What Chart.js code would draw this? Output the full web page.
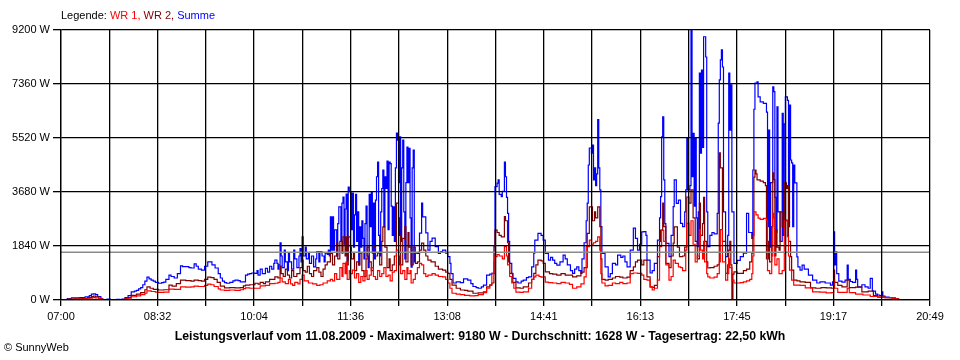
<!DOCTYPE html>
<html><head><meta charset="utf-8">
<script src="https://cdn.jsdelivr.net/npm/chart.js@4/dist/chart.umd.min.js"></script>
<style>html,body{margin:0;padding:0;background:#fff}#wrap{width:960px;height:360px}</style>
</head><body><div id="wrap"><canvas id="c" width="960" height="360"></canvas></div>
<script>
// Time labels (every second grid line) and axis span in minutes after 07:00
const timeLabels = ['07:00','08:32','10:04','11:36','13:08','14:41','16:13','17:45','19:17','20:49'];
const spanMinutes = 829;
const yTicks = [0, 1840, 3680, 5520, 7360, 9200];
const averageW = 1628;
const legendParts = [['Legende: ', '#000000'], ['WR 1, ', '#ff0000'], ['WR 2, ', '#800000'], ['Summe', '#0000ff']];
const titleText = 'Leistungsverlauf vom 11.08.2009 - Maximalwert: 9180 W - Durchschnitt: 1628 W - Tagesertrag: 22,50 kWh';
const footerText = '\u00A9 SunnyWeb';

// [minutes after 07:00, watts]
const summe = [[5,0],[6,50],[10,70],[18,80],[23,110],[27,150],[29,200],[31,210],[33,180],[35,120],[38,40],[40,0],[44,30],[47,0],[53,20],[56,0],[58,30],[61,80],[64,150],[67,280],[70,300],[72,330],[74,380],[76,420],[78,520],[80,640],[82,780],[84,720],[86,680],[88,640],[90,600],[93,570],[96,590],[98,610],[100,700],[103,850],[105,800],[108,750],[111,900],[114,1160],[116,1140],[119,1140],[122,1100],[124,1090],[127,1230],[129,1150],[131,1050],[134,1020],[137,1150],[140,1300],[142,1300],[144,1200],[147,1090],[150,900],[152,750],[154,640],[156,590],[158,570],[161,600],[164,650],[166,680],[169,660],[171,620],[173,620],[176,850],[178,880],[180,900],[182,920],[185,910],[187,1000],[188,850],[190,1050],[192,900],[195,1080],[197,950],[199,1150],[201,1050],[203,1250],[204,1360],[206,1250],[207,1050],[208,1200],[209,1950],[210,1500],[211,1100],[213,1700],[214,1300],[216,1000],[217,1600],[218,1300],[220,1050],[222,1700],[223,1400],[225,1100],[227,1500],[228,1750],[229,1300],[230,2150],[231,1500],[233,1800],[234,1400],[236,1600],[237,1250],[239,1500],[241,1130],[243,1400],[244,1650],[246,1300],[247,1650],[249,1500],[251,1300],[252,1600],[254,1550],[255,1700],
[256,1500],[257,2830],[258,1700],[259,2830],[260,1700],[261,2390],[262,2390],[263,1500],[264,2600],[265,3170],[266,3170],[267,2000],[268,3300],[269,3510],[270,1900],[271,3100],[272,3610],[273,1360],[274,3850],[275,3700],[276,3650],[277,2400],[278,3640],[279,1800],[280,2900],[281,3600],[282,2000],[283,3000],[284,1200],[285,2490],[286,1800],[287,2700],[288,2100],[289,1400],[290,2600],[291,3200],[292,1500],[293,1100],[294,3600],[295,2500],[296,3690],[297,1600],[298,3300],[299,1400],[300,3400],[301,4200],[302,4700],[303,2200],[304,1500],[305,3000],[306,3800],[307,4430],[308,2500],[309,4200],[310,3800],[311,4730],[312,2400],[313,4700],[314,4650],[315,3200],[316,2200],[317,3170],[318,2000],[319,4500],[320,5690],[321,5450],[322,4000],[323,5560],[324,2000],[325,4500],[326,5450],[327,3000],[328,1400],[329,4000],[330,5210],[331,4000],[332,5170],[333,2800],[334,1120],[335,4500],[336,5110],[337,1300],[338,1600],
[340,1590],[342,2280],[344,3300],[345,2830],[348,2290],[350,1700],[352,2000],[354,2110],[357,1820],[360,1590],[362,1650],[364,1700],[367,1600],[369,1480],[371,1250],[372,900],[374,580],[377,620],[381,590],[384,720],[388,680],[391,560],[393,460],[396,420],[398,400],[401,450],[403,510],[406,850],[409,880],[411,910],[413,1820],[414,3860],[416,3980],[417,4090],[418,3600],[420,3520],[421,3700],[423,4700],[424,4200],[425,3500],[426,2950],[427,2000],[428,1250],[430,900],[431,740],[434,620],[436,580],[439,640],[441,680],[444,760],[446,790],[449,1130],[451,1600],[452,2040],[455,2270],[458,2200],[460,2040],[462,1590],[465,1360],[467,1450],[469,1360],[471,1250],[473,1190],[476,1300],[479,1530],[481,1400],[483,1200],[486,1000],[488,910],[490,1050],[492,1130],[494,1000],[496,910],[497,1400],[499,1950],[501,2700],[502,3300],[503,4600],[504,5180],[506,5000],[507,5280],[508,4090],[509,4500],[510,3900],[511,4300],[512,6150],[513,4500],[514,3750],[515,2500],[516,1590],[519,1130],[522,790],[524,900],[526,1250],[529,1200],[531,1530],[534,1450],[536,1500],[538,1300],[540,1130],[543,1700],[546,2450],[548,2100],[550,1700],[552,1900],[554,2320],[556,2330],[558,2200],[559,1360],[562,920],[564,1000],[566,1250],[569,2040],[571,2800],[572,3520],[573,5560],[574,6240],[575,4090],[576,2600],[577,1930],[580,1480],[582,2200],[584,3180],[585,4090],[587,3290],[589,3400],[591,2610],[593,2500],[595,3000],[596,3750],[597,5510],[598,3750],[600,3900],[601,9180],[602,4200],[603,5680],[604,3200],[605,5500],[606,2800],[607,1820],[608,3000],[609,7730],[610,5000],[611,7830],[612,5200],[613,8970],[614,8970],[615,8280],[616,3000],[617,1820],[619,2200],[621,2300],[623,2250],[626,2950],[627,6030],[628,7500],[629,8180],[630,8520],[631,7940],[632,3000],[634,1480],[636,2200],[637,7730],[638,5790],[639,7330],[640,3000],[642,1250],[645,1350],[648,1480],[651,1600],[654,2950],[656,2300],[659,2100],[660,4430],[661,6500],[662,7390],[664,7430],[665,6920],[667,6750],[670,6700],[673,6400],[674,2500],[675,5790],[676,1800],[677,4000],[679,7260],[680,7100],[681,3500],[682,2300],[683,6580],[684,3000],[686,2000],[688,6360],[689,2200],[690,6000],[691,6920],[693,6800],[694,2500],[695,6640],[696,4770],[697,4670],[698,2500],[699,4600],[700,3990],[702,1470],[703,1130],[705,1020],[707,1190],[709,1050],[713,850],[717,680],[721,580],[724,620],[729,580],[734,510],[736,620],[737,2320],[738,1200],[739,1640],[740,900],[742,640],[745,610],[748,680],[750,1190],[751,700],[753,630],[755,600],[758,1020],[759,700],[760,450],[764,520],[767,450],[770,400],[772,740],[774,300],[777,200],[779,170],[781,150],[783,280],[784,130],[786,100],[790,80],[793,70],[796,40],[799,0]];

const wr2 = [[5,0],[7,30],[13,40],[20,50],[25,80],[29,120],[31,130],[33,110],[36,60],[39,0],[58,0],[61,40],[64,80],[67,160],[72,200],[76,250],[80,350],[82,450],[85,400],[88,360],[93,340],[98,350],[103,510],[106,470],[110,560],[114,680],[119,660],[124,640],[127,680],[131,660],[134,640],[137,700],[140,780],[143,760],[146,700],[149,600],[152,470],[156,410],[161,420],[166,410],[171,420],[174,480],[176,510],[180,520],[185,570],[188,540],[190,600],[193,560],[195,620],[199,700],[204,790],[207,750],[209,1160],[210,900],[212,800],[214,1050],[216,850],[218,750],[220,1000],[222,800],[225,900],[228,1100],[230,1360],[231,1000],[233,950],[235,1150],[237,900],[239,800],[241,1000],[244,1100],[246,950],[248,800],[250,1050],[252,1200],[254,1300],[257,1590],[259,1200],[261,1500],[263,1940],[264,1400],[266,2000],[268,1600],[269,2150],[271,1500],[272,2150],[273,1200],[274,2150],[276,1800],[277,1400],[279,1590],[280,1000],[282,1300],[284,1200],[285,1600],[287,1000],[289,800],[291,1400],[292,1800],[294,1300],[296,1000],[298,1820],[300,1500],[302,1600],[304,1200],[306,2000],[307,2490],[309,1800],[311,1100],[313,1400],[314,1000],[316,1200],[318,1500],[320,3300],[322,2800],[323,2200],[324,1200],[326,2100],[328,2500],[329,1300],[331,2300],[332,1800],[334,1200],[336,1800],[338,1250],[340,1300],[342,1700],[344,1940],[346,1700],[348,1500],[350,1360],[353,1300],[357,1150],[360,1050],[364,1020],[367,950],[369,910],[371,700],[373,510],[377,400],[381,340],[385,330],[388,300],[393,230],[398,240],[403,280],[406,450],[409,520],[411,580],[413,900],[414,2380],[416,2300],[418,2200],[420,2150],[423,2840],[424,2700],[426,1950],[427,1300],[428,910],[431,600],[434,410],[438,400],[441,450],[446,580],[449,700],[451,910],[453,1200],[455,1360],[458,1330],[460,1250],[462,960],[466,900],[469,880],[473,850],[477,900],[481,850],[485,850],[488,790],[492,820],[496,950],[499,1100],[502,2270],[504,3170],[507,2700],[509,3000],[510,2800],[512,3170],[514,2500],[515,1400],[516,700],[519,680],[522,700],[526,750],[529,800],[533,780],[536,750],[540,780],[543,1000],[546,1130],[548,1300],[550,1360],[554,1200],[556,1360],[559,790],[562,450],[564,430],[566,500],[569,1480],[571,2000],[572,2380],[574,3300],[575,2500],[577,1250],[580,1100],[582,1500],[584,1940],[585,2490],[588,1800],[590,1480],[593,1500],[595,1800],[597,3510],[599,3300],[601,3750],[603,2800],[605,2000],[607,1400],[609,3300],[610,2200],[612,2600],[613,3500],[614,2000],[616,1300],[617,1090],[619,1100],[623,1150],[626,1200],[628,5010],[629,4500],[631,2000],[634,910],[636,1200],[637,1700],[638,2000],[639,1200],[640,0],[641,880],[642,960],[645,910],[648,910],[651,1000],[654,1050],[657,1300],[659,1600],[660,2200],[661,4190],[662,4430],[663,4300],[664,4090],[667,4050],[670,4000],[672,3900],[673,1400],[675,2000],[676,1300],[678,2500],[679,4330],[680,4100],[681,1500],[682,2400],[683,1800],[685,1700],[686,3000],[688,2500],[690,3990],[692,3800],[693,3900],[694,2000],[696,1480],[697,1020],[699,680],[702,650],[705,620],[710,600],[715,410],[720,400],[725,420],[730,410],[735,400],[737,1020],[738,600],[741,500],[745,450],[750,680],[752,420],[758,440],[764,280],[770,300],[775,150],[779,100],[786,80],[793,40],[799,0]];

const wr1 = [[5,0],[7,20],[15,30],[22,40],[27,60],[30,80],[33,70],[36,40],[39,0],[58,0],[61,30],[64,60],[67,110],[72,140],[76,180],[80,230],[82,310],[86,290],[90,270],[93,260],[98,270],[103,370],[108,360],[114,450],[119,440],[124,450],[127,470],[131,460],[134,460],[137,500],[140,540],[143,520],[146,460],[150,380],[152,340],[156,330],[161,340],[166,330],[171,350],[174,390],[176,410],[180,400],[185,400],[190,480],[195,500],[199,560],[204,570],[207,600],[209,750],[211,620],[214,560],[217,700],[219,550],[221,500],[223,600],[226,550],[228,700],[230,850],[232,650],[236,580],[240,550],[244,500],[247,520],[250,580],[254,650],[257,700],[259,650],[261,900],[263,700],[266,1100],[268,800],[269,1250],[271,900],[272,1300],[273,700],[275,1000],[276,900],[278,1020],[280,750],[282,900],[284,600],[286,800],[288,650],[290,1000],[292,700],[294,850],[296,1100],[298,800],[300,700],[302,1000],[304,800],[306,900],[308,1100],[310,800],[312,850],[314,650],[316,950],[318,1000],[320,1700],[322,1500],[323,1200],[324,900],[326,1000],[328,700],[330,1100],[331,900],[333,1000],[334,580],[336,700],[338,900],[340,1100],[342,1250],[344,1200],[346,900],[348,800],[350,850],[354,900],[357,850],[360,800],[364,790],[367,700],[369,580],[371,400],[373,230],[377,200],[381,180],[385,160],[390,140],[395,150],[398,180],[403,250],[406,400],[409,500],[411,910],[413,1300],[414,1480],[416,1550],[418,1500],[421,1400],[423,1820],[425,1500],[426,1200],[428,800],[430,580],[432,400],[434,270],[438,260],[441,280],[446,400],[449,700],[451,790],[453,850],[456,800],[458,780],[460,790],[462,610],[465,590],[469,580],[473,560],[477,600],[481,580],[485,530],[488,400],[492,450],[496,550],[499,790],[501,1820],[504,2040],[506,1900],[508,1950],[510,2000],[512,2150],[514,1700],[515,900],[516,580],[519,480],[522,500],[526,580],[529,560],[533,600],[536,560],[540,580],[543,900],[546,920],[550,910],[554,850],[556,700],[559,680],[562,450],[564,340],[566,400],[569,680],[571,1820],[573,2380],[575,2000],[577,1200],[580,680],[582,800],[584,1360],[586,1250],[589,1130],[591,1100],[593,1000],[596,1700],[597,2610],[599,2200],[601,2700],[603,1900],[605,1300],[607,1500],[609,2400],[610,1700],[612,1400],[613,2000],[614,1300],[616,900],[617,790],[619,750],[623,780],[626,900],[628,1300],[629,2400],[631,1300],[634,680],[636,900],[637,1400],[638,1100],[640,680],[642,580],[645,580],[648,590],[651,620],[654,650],[657,700],[659,900],[660,1500],[661,3000],[663,2900],[665,2790],[667,2750],[670,2780],[673,2700],[674,1000],[676,900],[678,1500],[679,2950],[680,2800],[681,1200],[683,1400],[685,900],[688,1000],[690,2700],[692,2720],[693,2160],[694,1500],[695,1020],[697,680],[699,510],[705,500],[710,410],[717,280],[724,270],[730,240],[735,250],[737,680],[738,400],[741,260],[748,260],[750,400],[752,250],[758,200],[765,170],[772,120],[779,100],[786,80],[793,40],[799,0]];

const FONT = '"Liberation Sans", Arial, sans-serif';
const gridCount = (timeLabels.length - 1) * 2;
const gridValues = Array.from({length: gridCount + 1}, (_, i) => i * spanMinutes / gridCount);
const toPts = arr => arr.map(([t, v]) => ({x: t, y: v}));

const textPlugin = {
  id: 'texts',
  afterDraw(chart) {
    const ctx = chart.ctx;
    ctx.save();
    ctx.textBaseline = 'middle';
    ctx.textAlign = 'left';
    ctx.font = '11px ' + FONT;
    let x = chart.chartArea.left;
    legendParts.forEach(([txt, col]) => {
      ctx.fillStyle = col;
      ctx.fillText(txt, x, 16);
      x += ctx.measureText(txt).width;
    });
    ctx.fillStyle = '#000';
    ctx.font = 'bold 12.3px ' + FONT;
    ctx.textAlign = 'center';
    ctx.fillText(titleText, 480, 337);
    ctx.font = '11px ' + FONT;
    ctx.textAlign = 'left';
    ctx.fillText(footerText, 4, 348);
    ctx.restore();
  }
};

const lineDs = (label, arr, color) => ({
  label, data: toPts(arr), borderColor: color, backgroundColor: color,
  borderWidth: 1.2, pointRadius: 0, stepped: true, fill: false, tension: 0
});

new Chart(document.getElementById('c'), {
  type: 'line',
  data: {
    datasets: [
      {label: 'Durchschnitt', data: [{x: 0, y: averageW}, {x: spanMinutes, y: averageW}],
       borderColor: '#8a8a8a', borderWidth: 1.5, pointRadius: 0, fill: false},
      lineDs('WR 1', wr1, '#ff0000'),
      lineDs('WR 2', wr2, '#800000'),
      lineDs('Summe', summe, '#0000ff')
    ]
  },
  options: {
    responsive: false,
    animation: false,
    layout: {padding: {left: 0, top: 30, right: 30, bottom: 0}},
    plugins: {legend: {display: false}, tooltip: {enabled: false}, title: {display: false}},
    scales: {
      x: {
        type: 'linear', min: 0, max: spanMinutes,
        afterBuildTicks: s => { s.ticks = gridValues.map(v => ({value: v})); },
        afterFit: s => { s.height = 60; },
        grid: {color: '#000', lineWidth: 1.3, tickLength: 6, z: 1},
        border: {color: '#000', width: 1.3, z: 1},
        ticks: {
          autoSkip: false, maxRotation: 0, minRotation: 0, padding: 4, color: '#000',
          font: {family: FONT, size: 11},
          callback: (v, i) => (i % 2 === 0 ? timeLabels[i / 2] : '')
        }
      },
      y: {
        min: 0, max: 9200,
        afterBuildTicks: s => { s.ticks = yTicks.map(v => ({value: v})); },
        afterFit: s => { s.width = 61; },
        grid: {color: '#000', lineWidth: 1.3, tickLength: 8, z: 1},
        border: {color: '#000', width: 1.3, z: 1},
        ticks: {padding: 3, color: '#000', font: {family: FONT, size: 11}, callback: v => v + ' W'}
      }
    }
  },
  plugins: [textPlugin]
});
</script></body></html>
